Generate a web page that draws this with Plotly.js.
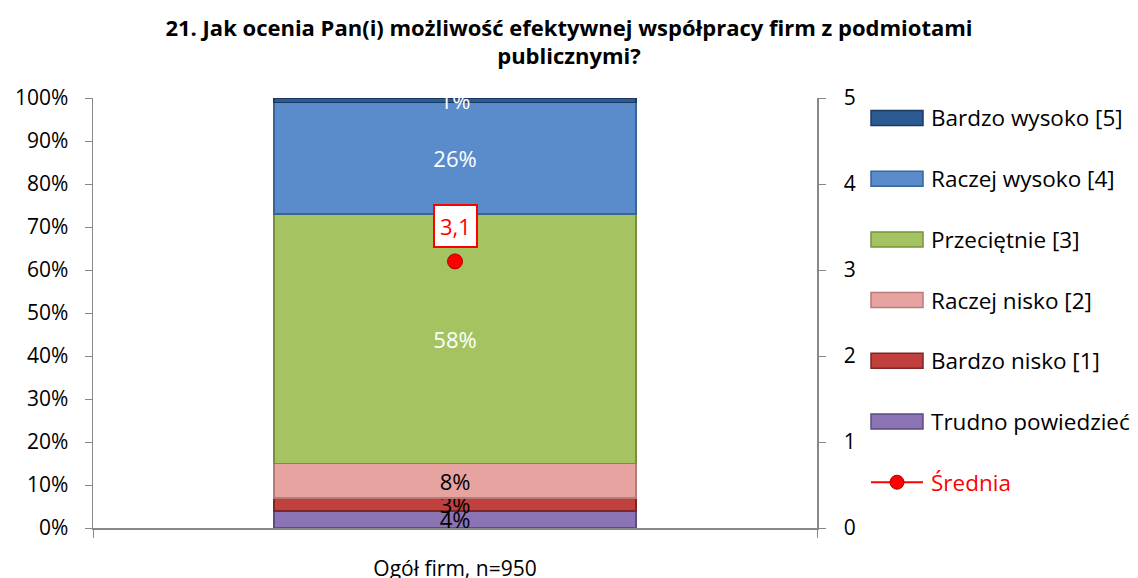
<!DOCTYPE html>
<html>
<head>
<meta charset="utf-8">
<script src="https://cdn.plot.ly/plotly-3.0.1.min.js"></script>
<style>html,body{margin:0;padding:0;background:#fff;}#chart{width:1138px;height:578px;}</style>
</head>
<body>
<div id="chart"></div>
<script>
const categories = ["Ogół firm, n=950"];
const seriesNames = ["Trudno powiedzieć", "Bardzo nisko [1]", "Raczej nisko [2]", "Przeciętnie [3]", "Raczej wysoko [4]", "Bardzo wysoko [5]"];
const seriesValues = [[4], [3], [8], [58], [26], [1]];
const seriesColors = ["#8a74b4", "#c0403d", "#e6a3a0", "#a5c461", "#5a8bca", "#2c5a92"];
const seriesLines = ["#5e4a85", "#7e2624", "#b87a78", "#76913e", "#3a6396", "#1b3a63"];
const labelColors = ["#000000", "#000000", "#000000", "#ffffff", "#ffffff", "#ffffff"];
const averageName = "Średnia";
const averageValues = [3.1];

const FONT = "Open Sans, Lato, sans-serif";
const W = 1138, H = 578;
const M = {l: 93, r: 321, t: 98, b: 50};
const PW = W - M.l - M.r, PH = H - M.t - M.b;
const px2x = p => (p - M.l) / PW;
const px2y = p => (H - M.b - p) / PH;

const traces = [];
seriesNames.forEach((name, i) => {
  traces.push({
    type: "bar",
    name: name,
    x: categories,
    y: seriesValues[i],
    text: seriesValues[i].map(v => v + "%"),
    textposition: "inside",
    insidetextanchor: "middle",
    textangle: 0,
    constraintext: "none",
    textfont: {family: FONT, size: 22, color: labelColors[i]},
    marker: {color: seriesColors[i], line: {color: seriesLines[i], width: 1.5}},
    showlegend: false,
    hoverinfo: "skip",
    cliponaxis: false
  });
});
traces.push({
  type: "scatter",
  mode: "lines+markers",
  name: averageName,
  x: categories,
  y: averageValues,
  yaxis: "y2",
  marker: {color: "#ff0000", size: 15, line: {color: "#b00000", width: 1}},
  line: {color: "#ff0000", width: 2},
  showlegend: false,
  cliponaxis: false
});

const annotations = averageValues.map((v, i) => ({
  x: categories[i], y: v, xref: "x", yref: "y2",
  text: v.toFixed(1).replace(".", ","),
  showarrow: false, yshift: 35,
  font: {family: FONT, size: 22, color: "#ff0000"},
  bgcolor: "#ffffff", bordercolor: "#ff0000", borderwidth: 2, borderpad: 5
}));

// custom legend (top: highest rating)
const shapes = [];
const legendOrder = seriesNames.map((n, i) => i).reverse();
const legTop = 118, legStep = 60.7, symL = 871, symR = 923, textX = 929;
legendOrder.forEach((si, k) => {
  const cy = legTop + k * legStep;
  shapes.push({
    type: "rect", xref: "paper", yref: "paper",
    x0: px2x(symL), x1: px2x(symR), y0: px2y(cy + 7.5), y1: px2y(cy - 7.5),
    fillcolor: seriesColors[si], line: {color: seriesLines[si], width: 1.5}
  });
  annotations.push({
    xref: "paper", yref: "paper", x: px2x(textX), y: px2y(cy),
    xanchor: "left", yanchor: "middle", showarrow: false,
    text: seriesNames[si], font: {family: FONT, size: 22.5, color: "#000"}
  });
});
{
  const cy = legTop + legendOrder.length * legStep;
  shapes.push({
    type: "line", xref: "paper", yref: "paper",
    x0: px2x(symL), x1: px2x(symR), y0: px2y(cy), y1: px2y(cy),
    line: {color: "#ff0000", width: 2}
  });
  shapes.push({
    type: "circle", xref: "paper", yref: "paper",
    x0: px2x(890), x1: px2x(904), y0: px2y(cy + 7), y1: px2y(cy - 7),
    fillcolor: "#ff0000", line: {color: "#b00000", width: 1}
  });
  annotations.push({
    xref: "paper", yref: "paper", x: px2x(textX), y: px2y(cy),
    xanchor: "left", yanchor: "middle", showarrow: false,
    text: averageName, font: {family: FONT, size: 22.5, color: "#ff0000"}
  });
}

const layout = {
  width: W, height: H,
  paper_bgcolor: "#ffffff", plot_bgcolor: "#ffffff",
  margin: M,
  title: {
    text: "<b>21. Jak ocenia Pan(i) możliwość efektywnej współpracy firm z podmiotami<br>publicznymi?</b>",
    font: {family: FONT, size: 22, color: "#000"},
    x: 0.5, xanchor: "center", yref: "container", y: 0.938, yanchor: "top"
  },
  barmode: "stack",
  bargap: 0.5,
  showlegend: false,
  uniformtext: {mode: "show", minsize: 22},
  xaxis: {
    type: "category",
    showline: true, linecolor: "#888", linewidth: 1.5,
    ticks: "outside", tickson: "boundaries", ticklen: 8, tickcolor: "#888",
    ticklabelstandoff: 21,
    tickfont: {family: FONT, size: 21, color: "#000"},
    showgrid: false, zeroline: false
  },
  yaxis: {
    range: [0, 100], dtick: 10, ticksuffix: "%",
    showline: true, linecolor: "#888", linewidth: 1.5,
    ticks: "outside", ticklen: 7, tickcolor: "#888",
    tickfont: {family: FONT, size: 21, color: "#000"},
    showgrid: false, zeroline: false, ticklabelstandoff: 12
  },
  yaxis2: {
    range: [0, 5], dtick: 1, overlaying: "y", side: "right",
    showline: true, linecolor: "#888", linewidth: 1.5,
    ticks: "outside", ticklen: 7, tickcolor: "#888",
    tickfont: {family: FONT, size: 21, color: "#000"},
    showgrid: false, zeroline: false, ticklabelstandoff: 14
  },
  shapes: shapes,
  annotations: annotations
};

Plotly.newPlot("chart", traces, layout, {staticPlot: true, displayModeBar: false});
</script>
</body>
</html>
